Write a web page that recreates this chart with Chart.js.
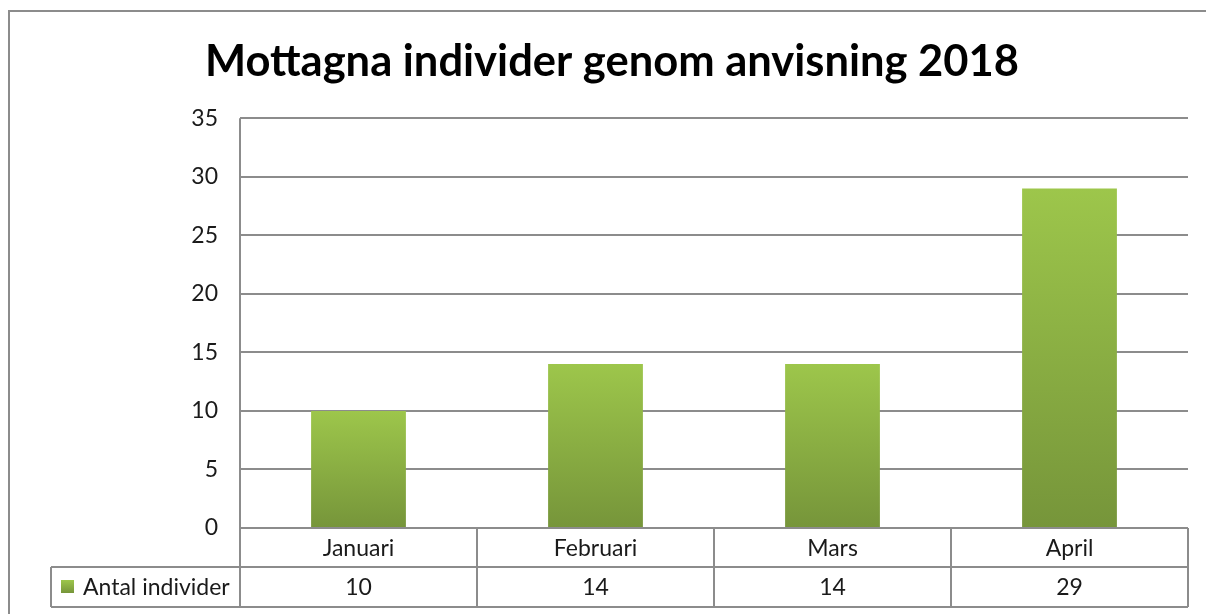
<!DOCTYPE html>
<html lang="sv">
<head>
  <meta charset="UTF-8" />
  <title>Mottagna individer</title>
  <script src="https://cdn.jsdelivr.net/npm/chart.js"></script>
  <style>
    html, body { margin: 0; padding: 0; background: #fff; }
    #wrap { width: 1206px; height: 614px; }
  </style>
</head>
<body>
  <div id="wrap"><canvas id="myChart" width="1206" height="614"></canvas></div>
<script>
  // data
  const manader = ['Januari', 'Februari', 'Mars', 'April'];
  const antal = [10, 14, 14, 29];
  const serieNamn = 'Antal individer';
  const titel = 'Mottagna individer genom anvisning 2018';

  const linje = '#8c8c8c';
  const textFarg = '#1a1a1a';
  const typsnitt = 'Lato, Carlito, Calibri, sans-serif';

  function stapelFarg(c) {
    const chart = c.chart;
    if (!chart.chartArea || c.raw == null) return '#8db743';
    const y = chart.scales.y;
    const g = chart.ctx.createLinearGradient(0, y.getPixelForValue(c.raw), 0, y.getPixelForValue(0));
    g.addColorStop(0, '#9dc64b');
    g.addColorStop(1, '#76953a');
    return g;
  }

  // ram runt hela diagrammet
  const ramPlugin = {
    id: 'ram',
    beforeDraw(chart) {
      const ctx = chart.ctx;
      ctx.save();
      ctx.fillStyle = '#fff';
      ctx.fillRect(0, 0, chart.width, chart.height);
      ctx.strokeStyle = linje;
      ctx.lineWidth = 2;
      ctx.beginPath();
      ctx.moveTo(9, chart.height + 5);
      ctx.lineTo(9, 11);
      ctx.lineTo(chart.width + 5, 11);
      ctx.stroke();
      ctx.restore();
    }
  };

  // datatabell under x-axeln
  const tabellPlugin = {
    id: 'tabell',
    afterDraw(chart) {
      const ctx = chart.ctx;
      const a = chart.chartArea;
      const x = chart.scales.x;
      const n = manader.length;
      const bredd = (a.right - a.left) / n;
      const rad1 = a.bottom + 39;
      const rad2 = a.bottom + 79;
      const vanster = 51;

      ctx.save();
      ctx.strokeStyle = linje;
      ctx.lineWidth = 2;
      ctx.beginPath();
      // horisontella
      ctx.moveTo(a.left, a.bottom); ctx.lineTo(a.right, a.bottom);
      ctx.moveTo(vanster, rad1); ctx.lineTo(a.right, rad1);
      ctx.moveTo(vanster, rad2); ctx.lineTo(a.right, rad2);
      // vertikala
      ctx.moveTo(a.left, a.top); ctx.lineTo(a.left, rad2);
      for (let i = 1; i <= n; i++) {
        const xp = a.left + i * bredd;
        ctx.moveTo(xp, a.bottom); ctx.lineTo(xp, rad2);
      }
      ctx.moveTo(vanster, rad1); ctx.lineTo(vanster, rad2);
      ctx.stroke();

      ctx.fillStyle = textFarg;
      ctx.font = '23px ' + typsnitt;
      ctx.textAlign = 'center';
      ctx.textBaseline = 'middle';
      for (let i = 0; i < n; i++) {
        const xp = x.getPixelForValue(i);
        ctx.fillText(manader[i], xp, (a.bottom + rad1) / 2 + 1);
        ctx.fillText(String(antal[i]), xp, (rad1 + rad2) / 2 + 1);
      }

      // förklaring
      const g = ctx.createLinearGradient(0, rad1 + 13, 0, rad1 + 26);
      g.addColorStop(0, '#9dc64b');
      g.addColorStop(1, '#76953a');
      ctx.fillStyle = g;
      ctx.fillRect(61, rad1 + 13, 13, 13);
      ctx.fillStyle = textFarg;
      ctx.textAlign = 'left';
      ctx.fillText(serieNamn, 83, (rad1 + rad2) / 2 + 1);
      ctx.restore();
    }
  };

  new Chart(document.getElementById('myChart'), {
    type: 'bar',
    data: {
      labels: manader,
      datasets: [{
        label: serieNamn,
        data: antal,
        backgroundColor: stapelFarg,
        borderWidth: 0,
        categoryPercentage: 1,
        barPercentage: 0.4
      }]
    },
    options: {
      responsive: false,
      animation: false,
      events: [],
      layout: { padding: { top: 10, left: 36, right: 18, bottom: 86 } },
      plugins: {
        legend: { display: false },
        tooltip: { enabled: false },
        title: {
          display: true,
          text: titel,
          color: '#000',
          font: { family: typsnitt, size: 43.5, weight: 'bold' },
          padding: { top: 26, bottom: 30 }
        }
      },
      scales: {
        x: { display: false },
        y: {
          min: 0,
          max: 35,
          ticks: {
            stepSize: 5,
            color: textFarg,
            padding: 22,
            font: { family: typsnitt, size: 23 }
          },
          grid: { color: linje, lineWidth: 2, drawTicks: false },
          border: { display: false },
          afterFit(s) { s.width = 204; }
        }
      }
    },
    plugins: [ramPlugin, tabellPlugin]
  });
</script>
</body>
</html>
